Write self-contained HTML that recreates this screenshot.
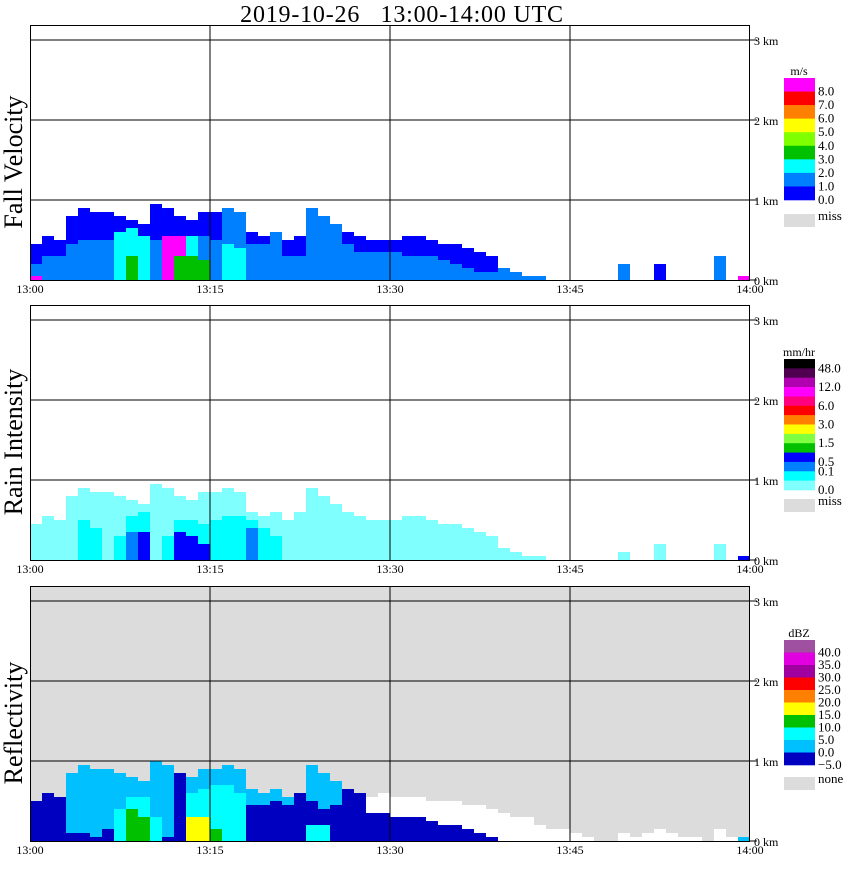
<!DOCTYPE html>
<html><head><meta charset="utf-8"><style>
body{margin:0;background:#fff;width:850px;height:868px;overflow:hidden;font-family:"Liberation Serif",serif}
svg text{font-family:"Liberation Serif",serif}
</style></head><body>
<svg id="chart" width="850" height="868" xmlns="http://www.w3.org/2000/svg">
<text x="402" y="22" font-size="24" letter-spacing="0.8" text-anchor="middle" style="white-space:pre">2019-10-26   13:00-14:00 UTC</text>
</svg>
<script>
// ---- data (per minute after 13:00) ----
const minutes = Array.from({length:60},(_,i)=>i);
const timeTicks = ["13:00","13:15","13:30","13:45","14:00"];
const kmTicks = ["0 km","1 km","2 km","3 km"];

// Fall velocity (m/s)
const fvTop  = [0.45,0.55,0.5,0.8,0.9,0.85,0.85,0.8,0.75,0.7,0.95,0.9,0.8,0.75,0.85,0.85,0.9,0.85,0.6,0.55,0.6,0.5,0.55,0.9,0.8,0.7,0.6,0.55,0.5,0.5,0.5,0.55,0.55,0.5,0.45,0.45,0.4,0.35,0.3,0.15,0.1,0.05,0.05,0,0,0,0,0,0,0.2,0,0,0.2,0,0,0,0,0.3,0,0.05];
const fvBase = [0.5,0.5,0.5,0.5,0.5,0.5,0.5,0.5,0.5,0.5,0.5,0.5,0.5,0.5,0.5,0.5,1.5,1.5,0.5,0.5,1.5,0.5,0.5,1.5,1.5,1.5,0.5,0.5,0.5,0.5,0.5,0.5,0.5,0.5,0.5,0.5,0.5,0.5,0.5,1.5,1.5,1.5,1.5,0,0,0,0,0,0,1.5,0,0,0.5,0,0,0,0,1.5,0,8.5];
const fvMidV = [1.5,1.5,1.5,1.5,1.5,1.5,1.5,2.5,2.5,2.5,1.5,8.5,8.5,2.5,1.5,1.5,2.5,2.5,1.5,1.5,1.5,1.5,1.5,1.5,1.5,1.5,1.5,1.5,1.5,1.5,1.5,1.5,1.5,1.5,1.5,1.5,1.5,1.5,1.5,0,0,0,0,0,0,0,0,0,0,0,0,0,0,0,0,0,0,0,0,0];
const fvMidH = [0.2,0.3,0.3,0.45,0.5,0.5,0.5,0.6,0.65,0.55,0.5,0.55,0.55,0.55,0.55,0.5,0.45,0.4,0.45,0.45,0.4,0.3,0.3,0.6,0.6,0.5,0.45,0.35,0.35,0.35,0.35,0.3,0.3,0.3,0.25,0.2,0.15,0.1,0.1,0,0,0,0,0,0,0,0,0,0,0,0,0,0,0,0,0,0,0,0,0];
const fvLowV = [8.5,0,0,0,0,0,0,0,3.5,0,0,0,3.5,3.5,3.5,0,0,0,0,0,0,0,0,0,0,0,0,0,0,0,0,0,0,0,0,0,0,0,0,0,0,0,0,0,0,0,0,0,0,0,0,0,0,0,0,0,0,0,0,0];
const fvLowH = [0.05,0,0,0,0,0,0,0,0.3,0,0,0,0.3,0.3,0.25,0,0,0,0,0,0,0,0,0,0,0,0,0,0,0,0,0,0,0,0,0,0,0,0,0,0,0,0,0,0,0,0,0,0,0,0,0,0,0,0,0,0,0,0,0];

// Rain intensity (mm/hr)
const riTop  = [0.45,0.55,0.5,0.8,0.9,0.85,0.85,0.8,0.75,0.7,0.95,0.9,0.8,0.75,0.85,0.85,0.9,0.85,0.6,0.55,0.6,0.5,0.6,0.9,0.8,0.7,0.6,0.55,0.5,0.5,0.5,0.55,0.55,0.5,0.45,0.45,0.4,0.35,0.3,0.15,0.1,0.05,0.05,0,0,0,0,0,0,0.1,0,0,0.2,0,0,0,0,0.2,0,0.05];
const riMidV = [0,0,0,0,0.15,0.15,0,0.15,0.15,0.15,0,0.15,0.15,0.15,0.15,0.15,0.15,0.15,0.15,0.15,0.15,0,0,0,0,0,0,0,0,0,0,0,0,0,0,0,0,0,0,0,0,0,0,0,0,0,0,0,0,0,0,0,0,0,0,0,0,0,0,0];
const riMidH = [0,0,0,0,0.5,0.4,0,0.3,0.55,0.6,0,0.3,0.5,0.5,0.45,0.5,0.55,0.55,0.5,0.4,0.3,0,0,0,0,0,0,0,0,0,0,0,0,0,0,0,0,0,0,0,0,0,0,0,0,0,0,0,0,0,0,0,0,0,0,0,0,0,0,0];
const riLowV = [0,0,0,0,0,0,0,0,0.3,0.7,0,0,0.7,0.7,0.7,0,0,0,0.3,0,0,0,0,0,0,0,0,0,0,0,0,0,0,0,0,0,0,0,0,0,0,0,0,0,0,0,0,0,0,0,0,0,0,0,0,0,0,0,0,0.7];
const riLowH = [0,0,0,0,0,0,0,0,0.35,0.35,0,0,0.35,0.3,0.2,0,0,0,0.4,0,0,0,0,0,0,0,0,0,0,0,0,0,0,0,0,0,0,0,0,0,0,0,0,0,0,0,0,0,0,0,0,0,0,0,0,0,0,0,0,0.05];

// Reflectivity (dBZ); -7 = below -5 (white)
const rfTop  = [0.5,0.6,0.55,0.85,0.95,0.9,0.9,0.85,0.8,0.75,1.0,0.95,0.85,0.8,0.9,0.9,0.95,0.9,0.65,0.6,0.65,0.55,0.6,0.95,0.85,0.75,0.65,0.6,0.55,0.6,0.55,0.55,0.55,0.5,0.5,0.5,0.45,0.45,0.4,0.35,0.3,0.3,0.2,0.15,0.15,0.1,0.05,0,0,0.1,0.05,0.1,0.15,0.1,0.05,0.05,0,0.15,0.05,0.05];
const rfBase = [-2.5,-2.5,-2.5,2.5,2.5,2.5,2.5,2.5,2.5,2.5,2.5,2.5,-2.5,2.5,2.5,2.5,2.5,2.5,2.5,2.5,2.5,2.5,-2.5,2.5,2.5,2.5,-2.5,-2.5,-7,-7,-7,-7,-7,-7,-7,-7,-7,-7,-7,-7,-7,-7,-7,-7,-7,-7,-7,-7,-7,-7,-7,-7,-7,-7,-7,-7,-7,-7,-7,2.5];
const rfBlueH= [0.3,0.35,0.3,0.1,0.1,0.05,0.15,0.05,0.05,0.05,0.05,0.05,0.5,0.05,0.05,0.05,0.05,0.05,0.45,0.45,0.5,0.45,0.5,0.5,0.4,0.45,0.55,0.5,0.35,0.35,0.3,0.3,0.3,0.25,0.2,0.2,0.15,0.1,0.05,0,0,0,0,0,0,0,0,0,0,0,0,0,0,0,0,0,0,0,0,0];
const rfCyanH= [0,0,0,0,0,0,0,0.4,0.55,0.55,0.3,0,0,0.6,0.65,0.7,0.7,0.6,0,0,0,0,0,0.2,0.2,0,0,0,0,0,0,0,0,0,0,0,0,0,0,0,0,0,0,0,0,0,0,0,0,0,0,0,0,0,0,0,0,0,0,0];
const rfCoreV= [0,0,0,0,0,0,0,0,12.5,12.5,0,0,0,17.5,17.5,12.5,0,0,0,0,0,0,0,0,0,0,0,0,0,0,0,0,0,0,0,0,0,0,0,0,0,0,0,0,0,0,0,0,0,0,0,0,0,0,0,0,0,0,0,0];
const rfCoreH= [0,0,0,0,0,0,0,0,0.4,0.3,0,0,0,0.3,0.3,0.15,0,0,0,0,0,0,0,0,0,0,0,0,0,0,0,0,0,0,0,0,0,0,0,0,0,0,0,0,0,0,0,0,0,0,0,0,0,0,0,0,0,0,0,0];

// ---- colour scales ----
const fvColors=["#0000ff","#0080ff","#00ffff","#00c000","#80ff00","#ffff00","#ff8000","#ff0000","#ff00ff"];
const fvLabels=["8.0","7.0","6.0","5.0","4.0","3.0","2.0","1.0","0.0"];
const riColors=["#000000","#500050","#b000b0","#ff00ff","#ff0080","#ff0000","#ff8000","#ffff00","#80ff40","#00c000","#0000ff","#0080ff","#00ffff","#80ffff"];
const riLabels=["48.0","12.0","6.0","3.0","1.5","0.5","0.1","0.0"];
const riBounds=[0,0.1,0.2,0.5,1,1.5,2,3,4,6,9,12,24,48];
const rfColors=["#0000c0","#00c0ff","#00ffff","#00c000","#ffff00","#ff8000","#ff0000","#a000a0","#e000e0","#a050a0"];
const rfLabels=["40.0","35.0","30.0","25.0","20.0","15.0","10.0","5.0","0.0","\u22125.0"];
function fvColor(v){return fvColors[Math.max(0,Math.min(8,Math.floor(v)))];}
function riColor(v){let k=0;for(let i=0;i<riBounds.length;i++){if(v>=riBounds[i])k=i;}return riColors[13-k];}
function rfColor(v){if(v<-5)return "#ffffff";return rfColors[Math.max(0,Math.min(9,Math.floor((v+5)/5)))];}

// ---- drawing ----
const NS="http://www.w3.org/2000/svg";
const svg=document.getElementById('chart');
const X0=30,X1=750,PXMIN=(X1-X0)/60,KM=80;
function xs(m){return X0+m*PXMIN;}
function el(tag,attrs,parent){const e=document.createElementNS(NS,tag);for(const k in attrs)e.setAttribute(k,attrs[k]);(parent||svg).appendChild(e);return e;}

const panels=[
 {y0:25,name:"fall-velocity",title:"Fall Velocity",bg:"#ffffff",
  layers:[[fvTop,fvBase,fvColor],[fvMidH,fvMidV,fvColor],[fvLowH,fvLowV,fvColor]],
  cb:{top:78,bot:200,colors:fvColors.slice().reverse(),labels:fvLabels,unit:"m/s",miss:"miss",missY:214,step:1}},
 {y0:305,name:"rain-intensity",title:"Rain Intensity",bg:"#ffffff",
  layers:[[riTop,riTop.map(()=>0.05),riColor],[riMidH,riMidV,riColor],[riLowH,riLowV,riColor]],
  cb:{top:359,bot:490,colors:riColors,labels:riLabels,unit:"mm/hr",miss:"miss",missY:499,step:2}},
 {y0:586,name:"reflectivity",title:"Reflectivity",bg:"#dcdcdc",
  layers:[[rfTop,rfBase,rfColor],[rfBlueH,rfBlueH.map(()=>-2.5),rfColor],[rfCyanH,rfCyanH.map(()=>7.5),rfColor],[rfCoreH,rfCoreV,rfColor]],
  cb:{top:640,bot:765,colors:rfColors.slice().reverse(),labels:rfLabels,unit:"dBZ",miss:"none",missY:777,step:1}}
];

panels.forEach(p=>{
  const g=el('g',{});
  
  
  const y0=p.y0, base=y0+255;
  function ys(km){return base-km*KM;}
  const bg=el('rect',{x:X0,y:y0,width:X1-X0,height:255,fill:p.bg},g);
  
  
  const dg=el('g',{},g);
  
  
  p.layers.forEach(([hs,vs,cf])=>{
    minutes.forEach(i=>{
      const h=hs[i]; if(!(h>0))return;
      const r=el('rect',{x:xs(i),y:ys(h),width:PXMIN,height:h*KM,fill:cf(vs[i])},dg);
      
      
    });
  });
  [1,2,3].forEach(k=>el('line',{x1:X0,x2:X1,y1:ys(k),y2:ys(k),stroke:'#000','stroke-width':1},g));
  [15,30,45].forEach(m=>el('line',{x1:xs(m),x2:xs(m),y1:y0,y2:base,stroke:'#000','stroke-width':1},g));
  el('rect',{x:X0+0.5,y:y0+0.5,width:X1-X0-1,height:255,fill:'none',stroke:'#000','stroke-width':1},g);
  kmTicks.forEach((t,k)=>{
    el('line',{x1:X1,x2:X1+7,y1:ys(k),y2:ys(k),stroke:'#000'},g);
    const tx=el('text',{x:X1+4,y:ys(k)+5,'font-size':12},g);tx.textContent=t;
    
    
  });
  timeTicks.forEach((t,k)=>{
    const tx=el('text',{x:xs(k*15),y:base+13,'font-size':12,'text-anchor':'middle','font-family':'Liberation Sans, sans-serif'},g);tx.textContent=t;
    
    
  });
  const yt=el('text',{x:0,y:0,'font-size':26,'text-anchor':'middle',transform:`translate(22,${y0+137}) rotate(-90)`},g);
  yt.textContent=p.title;
  
  
  const cb=p.cb, n=cb.colors.length, bh=(cb.bot-cb.top)/n;
  const cg=el('g',{},g);
  
  
  const ut=el('text',{x:799,y:cb.top-3,'font-size':12,'text-anchor':'middle'},cg);ut.textContent=cb.unit;
  
  
  cb.colors.forEach((c,k)=>{
    const r=el('rect',{x:784,y:cb.top+k*bh,width:31,height:bh+0.3,fill:c},cg);
    
    
  });
  cb.labels.forEach((l,k)=>{
    const yy=(cb.step===2)?(k===cb.labels.length-1?cb.bot:cb.top+(2*k+1)*bh-(k===cb.labels.length-2?bh:0)):cb.top+(k+1)*bh;
    const tx=el('text',{x:818,y:yy+4,'font-size':13},cg);tx.textContent=l;
    
    
  });
  const mr=el('rect',{x:784,y:cb.missY,width:31,height:13,fill:'#dcdcdc'},cg);
  
  
  const mt=el('text',{x:818,y:cb.missY+6,'font-size':13},cg);mt.textContent=cb.miss;
  
  
});
</script>
</body></html>
